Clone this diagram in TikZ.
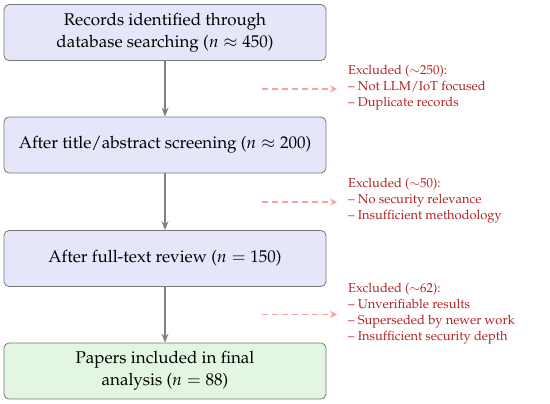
\documentclass[tikz,border=0pt]{standalone}
\usepackage[T1]{fontenc}
\usepackage{mathpazo}
\usetikzlibrary{arrows.meta}
\definecolor{boxblue}{RGB}{230,230,250}
\definecolor{boxgreen}{RGB}{226,246,226}
\definecolor{boxedge}{RGB}{120,120,120}
\definecolor{flowgray}{RGB}{128,128,128}
\definecolor{exred}{RGB}{178,34,34}
\definecolor{expink}{RGB}{255,160,160}
\tikzset{
  stage/.style={draw=boxedge, line width=0.8pt, rounded corners=5pt, fill=boxblue,
    minimum width=322pt, minimum height=56pt, align=center, inner sep=2pt,
    font=\fontsize{17}{22}\selectfont},
  finalstage/.style={stage, fill=boxgreen},
  flow/.style={draw=flowgray, line width=1.3pt, -{Stealth[length=9pt,width=7pt,inset=3pt]}},
  exclnote/.style={anchor=west, align=left, text=exred, inner sep=0pt,
    font=\fontsize{12.9}{16}\selectfont},
  exclarrow/.style={draw=expink, line width=1.1pt, dash pattern=on 6pt off 4pt,
    -{Stealth[length=7pt,width=7pt,inset=2.5pt]}, shorten >=11pt}
}
\begin{document}
\begin{tikzpicture}[x=1pt,y=-1pt]
\useasboundingbox (0,0) rectangle (550,404);
\node[stage] (b1) at (165,32.5) {Records identified through\\database searching ($n\approx 450$)};
\node[stage] (b2) at (165,145) {After title/abstract screening ($n\approx 200$)};
\node[stage] (b3) at (165,258.5) {After full-text review ($n=150$)};
\node[finalstage] (b4) at (165,371) {Papers included in final\\analysis ($n=88$)};
\draw[flow] (b1) -- (b2);
\draw[flow] (b2) -- (b3);
\draw[flow] (b3) -- (b4);
\node[exclnote] (e1) at (348,88) {Excluded ($\sim$250):\\-- Not LLM/IoT focused\\-- Duplicate records};
\node[exclnote] (e2) at (348,201) {Excluded ($\sim$50):\\-- No security relevance\\-- Insufficient methodology};
\node[exclnote] (e3) at (348,314) {Excluded ($\sim$62):\\-- Unverifiable results\\-- Superseded by newer work\\-- Insufficient security depth};
\coordinate (s1) at (262,89);
\coordinate (s2) at (262,202);
\coordinate (s3) at (262,314.5);
\draw[exclarrow] (s1) -- (s1 -| e1.west);
\draw[exclarrow] (s2) -- (s2 -| e2.west);
\draw[exclarrow] (s3) -- (s3 -| e3.west);
\end{tikzpicture}
\end{document}
